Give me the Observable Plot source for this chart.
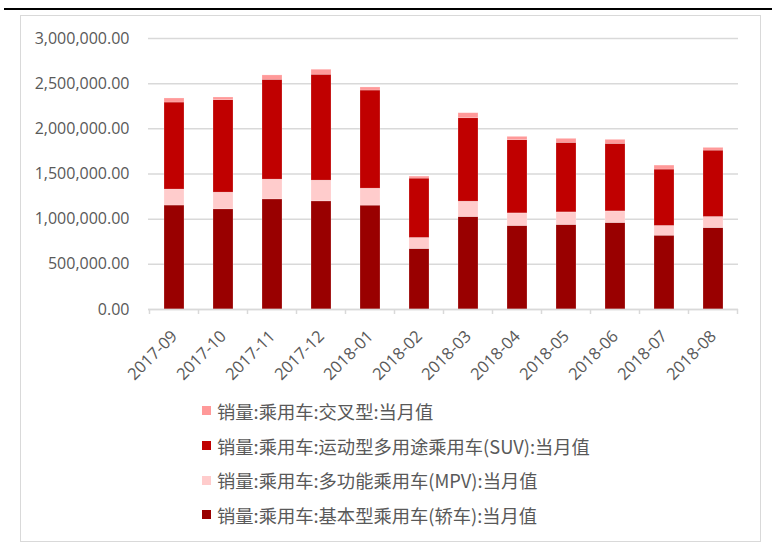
<!DOCTYPE html>
<html>
<head>
<meta charset="utf-8">
<script src="https://cdn.jsdelivr.net/npm/d3@7"></script>
<script src="https://cdn.jsdelivr.net/npm/@observablehq/plot@0.6"></script>
<style>
  body { margin: 0; background: #fff; }
  #wrap { position: relative; width: 772px; height: 543px; overflow: hidden; font-family: "Open Sans", "Noto Sans CJK SC", sans-serif; }
  #topline { position: absolute; left: 4px; top: 8px; width: 768px; height: 2px; background: #000; }
  #frame { position: absolute; left: 20px; top: 15px; width: 741px; height: 527px; border: 1px solid #d9d9d9; box-sizing: border-box; }
  #chart { position: absolute; left: 0; top: 0; }
  #legend { position: absolute; left: 202px; top: 393.5px; font-family: "Noto Sans CJK SC", sans-serif; font-size: 18.3px; color: #595959; }
  .item { display: flex; align-items: center; height: 34.7px; white-space: nowrap; }
  .sw { width: 9px; height: 9px; margin-right: 6px; flex: none; }
</style>
</head>
<body>
<div id="wrap">
  <div id="topline"></div>
  <div id="frame"></div>
  <div id="chart"></div>
  <div id="legend"></div>
</div>
<script>
const months = ["2017-09","2017-10","2017-11","2017-12","2018-01","2018-02","2018-03","2018-04","2018-05","2018-06","2018-07","2018-08"];
const sedan = [1151000,1109000,1219000,1197000,1150000,670000,1024000,925000,936000,958000,817000,902000];
const mpv   = [177000,185000,219000,230000,188000,122000,170000,139000,139000,128000,108000,122000];
const suv   = [963000,1023000,1105000,1172000,1086000,657000,923000,810000,770000,748000,624000,735000];
const cross = [45000,30000,48000,55000,34000,22000,56000,37000,44000,44000,44000,30000];

const seriesNames = [
  "销量:乘用车:基本型乘用车(轿车):当月值",
  "销量:乘用车:多功能乘用车(MPV):当月值",
  "销量:乘用车:运动型多用途乘用车(SUV):当月值",
  "销量:乘用车:交叉型:当月值"
];
const seriesColors = ["#990000", "#FFCCCC", "#C00000", "#FF9999"];
const yTicks = [0, 500000, 1000000, 1500000, 2000000, 2500000, 3000000];

const seriesValues = [sedan, mpv, suv, cross];
const data = [];
seriesNames.forEach((s, si) => {
  months.forEach((m, i) => data.push({month: m, series: s, value: seriesValues[si][i]}));
});

const fmt = d3.format(",.2f");
const plot = Plot.plot({
  width: 772,
  height: 392,
  marginLeft: 148,
  marginRight: 34,
  marginTop: 38,
  marginBottom: 83,
  style: {fontFamily: "'Open Sans', sans-serif", fontSize: "15px", color: "#595959", background: "transparent"},
  x: {domain: months, paddingInner: 0.6, paddingOuter: 0.3, label: null, tickSize: 0},
  y: {domain: [0, 3000000], ticks: yTicks, label: null},
  color: {domain: seriesNames, range: seriesColors},
  marks: [
    Plot.gridY(yTicks, {stroke: "#d9d9d9", strokeOpacity: 1, strokeWidth: 1.5}),
    Plot.barY(data, Plot.stackY({x: "month", y: "value", fill: "series", order: seriesNames, stroke: "#fff", strokeOpacity: 0.35, strokeWidth: 0.6})),
    Plot.ruleY([0], {stroke: "#d9d9d9", strokeWidth: 1.5}),
    Plot.axisY(yTicks, {tickSize: 0, tickPadding: 19, tickFormat: fmt, fill: "#595959", fontSize: 16}),
    Plot.axisX({tickSize: 0, tickRotate: -45, tickPadding: 16, dx: 0, dy: 8, fill: "#595959", fontSize: 16.5})
  ]
});
document.getElementById("chart").appendChild(plot);

// band-edge tick marks below the axis, positioned through the x scale
const xs = plot.scale("x");
const ys = plot.scale("y");
const svg = d3.select(plot);
const step = xs.step;
const bw = xs.bandwidth;
const edgeX = [];
months.forEach((m) => { edgeX.push(xs.apply(m) + bw/2 - step/2); });
edgeX.push(xs.apply(months[months.length-1]) + bw/2 + step/2);
svg.append("g").selectAll("line").data(edgeX).join("line")
  .attr("x1", d => d).attr("x2", d => d)
  .attr("y1", ys.apply(0)).attr("y2", ys.apply(0) + 5)
  .attr("stroke", "#d9d9d9").attr("stroke-width", 1.5);

// legend (reverse order, as in the reference)
const lg = document.getElementById("legend");
for (let i = seriesNames.length - 1; i >= 0; i--) {
  const it = document.createElement("div");
  it.className = "item";
  it.innerHTML = `<span class="sw" style="background:${seriesColors[i]}"></span><span>${seriesNames[i]}</span>`;
  lg.appendChild(it);
}
</script>
</body>
</html>
